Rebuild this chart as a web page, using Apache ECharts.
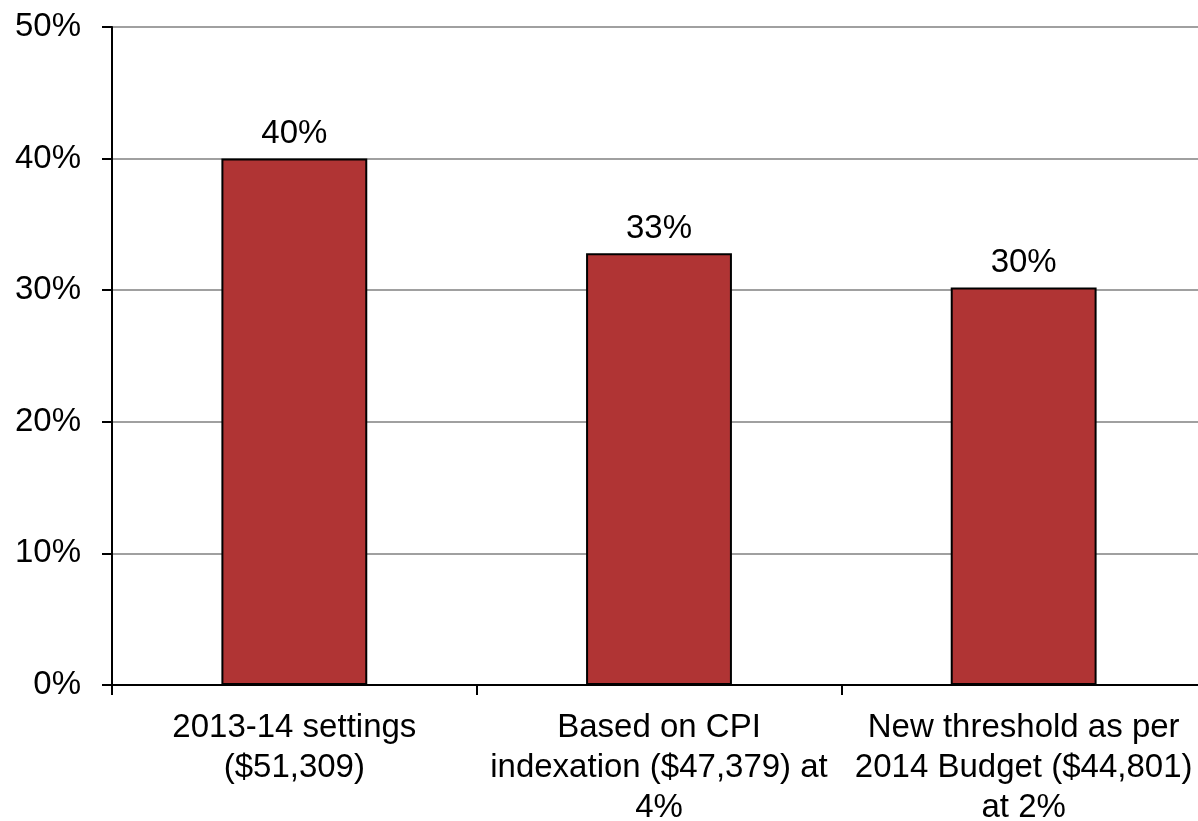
<!DOCTYPE html>
<html>
<head>
<meta charset="utf-8">
<script src="https://cdn.jsdelivr.net/npm/echarts@6/dist/echarts.min.js"></script>
<style>html,body{margin:0;padding:0;background:#fff}#c{width:1198px;height:821px}</style>
</head>
<body>
<div id="c"></div>
<script>
const categories = [
  "2013-14 settings\n($51,309)",
  "Based on CPI\nindexation ($47,379) at\n4%",
  "New threshold as per\n2014 Budget ($44,801)\nat 2%"
];
const values = [40.0, 32.8, 30.2];
const yTicks = { min: 0, max: 50, interval: 10 };

const chart = echarts.init(document.getElementById('c'), null, { renderer: 'canvas' });
const font = 'Liberation Sans, Arial, sans-serif';
chart.setOption({
  animation: false,
  backgroundColor: '#ffffff',
  grid: { left: 112, top: 27, bottom: 136, width: 1094, containLabel: false, outerBoundsMode: 'none' },
  xAxis: {
    type: 'category',
    data: categories,
    axisLine: { show: true, lineStyle: { color: '#000', width: 2 } },
    axisTick: { show: true, alignWithLabel: false, length: 10, lineStyle: { color: '#000', width: 2 } },
    axisLabel: { interval: 0, color: '#000', fontFamily: font, fontSize: 33, lineHeight: 40, margin: 23, hideOverlap: false },
    splitLine: { show: false }
  },
  yAxis: {
    type: 'value',
    min: yTicks.min, max: yTicks.max, interval: yTicks.interval,
    axisLine: { show: true, lineStyle: { color: '#000', width: 2 } },
    axisTick: { show: true, length: 10, lineStyle: { color: '#000', width: 2 } },
    axisLabel: { color: '#000', fontFamily: font, fontSize: 33, margin: 31, formatter: v => v + '%' },
    splitLine: { show: true, lineStyle: { color: '#a0a0a0', width: 2 } }
  },
  series: [{
    type: 'bar',
    data: values,
    barWidth: '40%',
    itemStyle: { color: '#b03434', borderColor: '#000', borderWidth: 2 },
    label: { show: true, position: 'top', distance: 8, color: '#000', fontFamily: font, fontSize: 33, formatter: p => Math.round(p.value) + '%' }
  }]
});
</script>
</body>
</html>
